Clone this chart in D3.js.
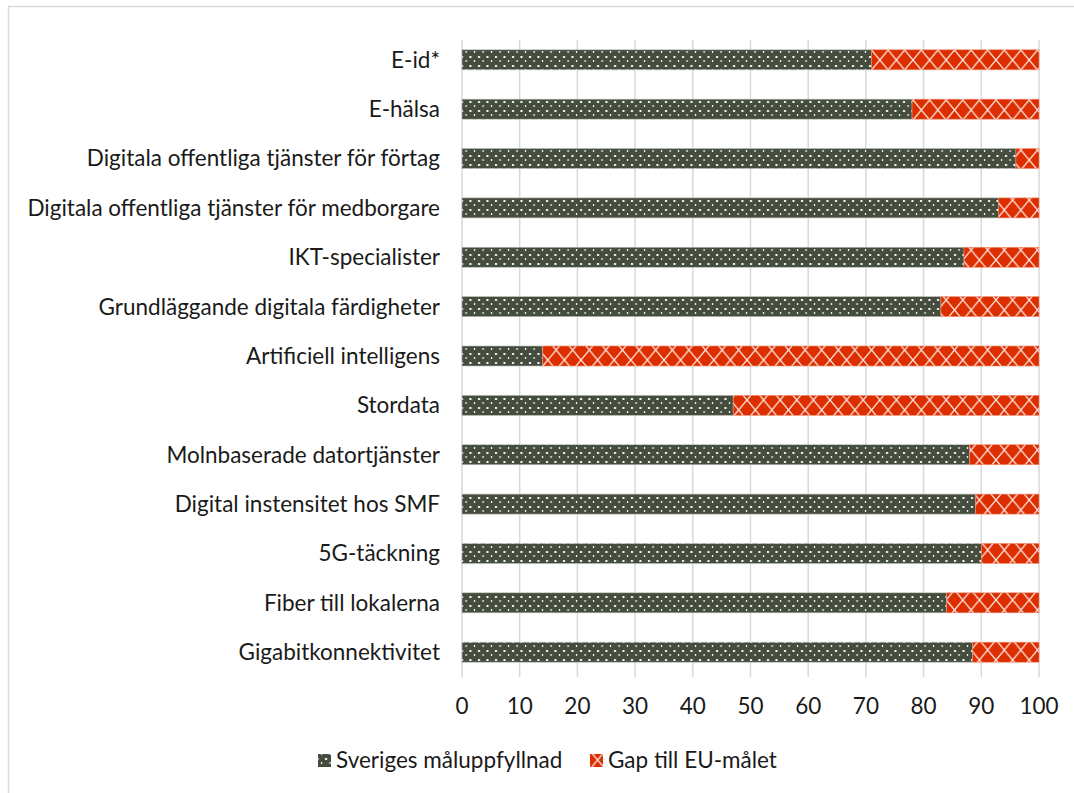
<!DOCTYPE html>
<html>
<head>
<meta charset="utf-8">
<script src="https://cdn.jsdelivr.net/npm/d3@7"></script>
<style>
  body { margin: 0; background: #fff; }
  svg text { font-family: Lato, "Open Sans", sans-serif; fill: #1a1a1a; }
</style>
</head>
<body>
<svg id="chart"></svg>
<script>
// Data
const categories = [
  "E-id*",
  "E-hälsa",
  "Digitala offentliga tjänster för förtag",
  "Digitala offentliga tjänster för medborgare",
  "IKT-specialister",
  "Grundläggande digitala färdigheter",
  "Artificiell intelligens",
  "Stordata",
  "Molnbaserade datortjänster",
  "Digital instensitet hos SMF",
  "5G-täckning",
  "Fiber till lokalerna",
  "Gigabitkonnektivitet"
];
const sweden = [71, 78, 96, 93, 87, 83, 14, 47, 88, 89, 90, 84, 88.5];
const gap = sweden.map(v => 100 - v);
const seriesNames = ["Sveriges måluppfyllnad", "Gap till EU-målet"];
const xTicks = [0, 10, 20, 30, 40, 50, 60, 70, 80, 90, 100];

const W = 1074, H = 793;
const margin = { top: 35, right: 35, bottom: 116, left: 462 };
const fontSize = "22.5px";

const svg = d3.select("#chart").attr("width", W).attr("height", H);

// patterns
const defs = svg.append("defs");
const dots = defs.append("pattern")
  .attr("id", "dots").attr("patternUnits", "userSpaceOnUse")
  .attr("width", 8.5).attr("height", 9);
dots.append("rect").attr("width", 8.5).attr("height", 9).attr("fill", "#454d3e");
dots.append("rect").attr("x", 2).attr("y", 2).attr("width", 2).attr("height", 2).attr("fill", "#fff");
dots.append("rect").attr("x", 6.5).attr("y", 6).attr("width", 1.2).attr("height", 2).attr("fill", "#fff");

const lattice = defs.append("pattern")
  .attr("id", "lattice").attr("patternUnits", "userSpaceOnUse")
  .attr("width", 16.6).attr("height", 20);
lattice.append("rect").attr("width", 16.6).attr("height", 20).attr("fill", "#dd2e00");
lattice.append("path")
  .attr("d", "M0,0 L16.6,20 M16.6,0 L0,20")
  .attr("stroke", "#fde0d8").attr("stroke-width", 1.4).attr("fill", "none");

// outer border
svg.append("rect")
  .attr("x", 8.5).attr("y", 6.5).attr("width", W + 20).attr("height", H + 20)
  .attr("fill", "none").attr("stroke", "#d9d9d9").attr("stroke-width", 1.5);

const x = d3.scaleLinear().domain([0, 100]).range([margin.left, W - margin.right]);
const y = d3.scaleBand().domain(categories)
  .range([margin.top, H - margin.bottom]).paddingInner(0.595).paddingOuter(0.3);

// gridlines
svg.append("g")
  .selectAll("line")
  .data(xTicks)
  .join("line")
  .attr("x1", d => x(d)).attr("x2", d => x(d))
  .attr("y1", margin.top + 5).attr("y2", H - margin.bottom)
  .attr("stroke", "#d9d9d9").attr("stroke-width", 1.5);

// x tick labels
svg.append("g")
  .selectAll("text")
  .data(xTicks)
  .join("text")
  .attr("x", d => x(d)).attr("y", 706)
  .attr("dy", "0.35em")
  .attr("text-anchor", "middle")
  .style("font-size", fontSize)
  .text(d => d);

// y labels
svg.append("g")
  .selectAll("text")
  .data(categories)
  .join("text")
  .attr("x", 440).attr("y", d => y(d) + y.bandwidth() / 2)
  .attr("dy", "0.35em")
  .attr("text-anchor", "end")
  .style("font-size", fontSize)
  .text(d => d);

// bars
const stacked = categories.map((c, i) => ({ cat: c, a: sweden[i], b: gap[i] }));
const bars = svg.append("g");
bars.selectAll("rect.swe")
  .data(stacked)
  .join("rect")
  .attr("class", "swe")
  .attr("x", x(0)).attr("y", d => y(d.cat))
  .attr("width", d => x(d.a) - x(0)).attr("height", y.bandwidth())
  .attr("fill", "url(#dots)")
  .attr("stroke", "#b8bcb4").attr("stroke-width", 0.6);
bars.selectAll("rect.gap")
  .data(stacked)
  .join("rect")
  .attr("class", "gap")
  .attr("x", d => x(d.a)).attr("y", d => y(d.cat))
  .attr("width", d => x(d.a + d.b) - x(d.a)).attr("height", y.bandwidth())
  .attr("fill", "url(#lattice)")
  .attr("stroke", "#f08a70").attr("stroke-width", 0.6);

// legend
const legend = svg.append("g");
const legendItems = [
  { name: seriesNames[0], fill: "url(#dots)", x: 318 },
  { name: seriesNames[1], fill: "url(#lattice)", x: 590 }
];
legendItems.forEach(d => {
  legend.append("rect")
    .attr("x", d.x).attr("y", 754).attr("width", 13).attr("height", 13)
    .attr("fill", d.fill);
  legend.append("text")
    .attr("x", d.x + 18).attr("y", 760.5).attr("dy", "0.35em")
    .style("font-size", fontSize)
    .text(d.name);
});
</script>
</body>
</html>
